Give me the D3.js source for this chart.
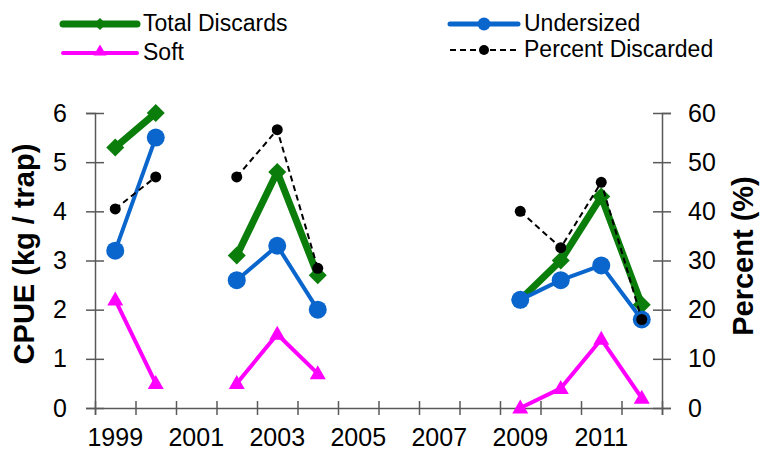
<!DOCTYPE html>
<html>
<head>
<meta charset="utf-8">
<script src="https://cdn.jsdelivr.net/npm/d3@7"></script>
<style>
  html, body { margin: 0; padding: 0; background: #fff; }
  svg { display: block; font-family: "Liberation Sans", Arial, sans-serif; }
</style>
</head>
<body>
<svg id="chart" width="760" height="454"></svg>
<script>
// ---- data ----
const years = [1999, 2000, 2001, 2002, 2003, 2004, 2005, 2006, 2007, 2008, 2009, 2010, 2011, 2012];
const yearLabels = [1999, 2001, 2003, 2005, 2007, 2009, 2011];
const totalDiscards = [5.3, 6.0, null, 3.1, 4.8, 2.7, null, null, null, null, 2.2, 3.0, 4.3, 2.1];
const undersized    = [3.2, 5.5, null, 2.6, 3.3, 2.0, null, null, null, null, 2.2, 2.6, 2.9, 1.8];
const soft          = [2.2, 0.5, null, 0.5, 1.5, 0.7, null, null, null, null, 0.0, 0.4, 1.4, 0.2];
const percentDiscarded = [40.5, 47.0, null, 47.0, 56.6, 28.4, null, null, null, null, 40.0, 32.6, 45.9, 18.0];
const leftTicks = [0, 1, 2, 3, 4, 5, 6];
const rightTicks = [0, 10, 20, 30, 40, 50, 60];

// ---- layout ----
const svg = d3.select("#chart");
const plotL = 95, plotR = 662, plotT = 113, plotB = 408;
const axisColor = "#595959";
const GREEN = "#0b7d0b", BLUE = "#0a66cc", MAGENTA = "#ff00ff", BLACK = "#000";

const x = d3.scaleBand().domain(years).range([plotL, plotR]).padding(0);
const xIdx = d3.scaleLinear().domain([0, years.length]).range([plotL, plotR]);
const yL = d3.scaleLinear().domain([0, 6]).range([plotB, plotT]);
const yR = d3.scaleLinear().domain([0, 60]).range([plotB, plotT]);
const cx = d => x(d) + x.bandwidth() / 2;

// ---- axes ----
// left
const gL = svg.append("g").attr("transform", `translate(${plotL},0)`)
  .call(d3.axisLeft(yL).tickValues(leftTicks).tickSize(9).tickPadding(19).tickFormat(d3.format("d")));
gL.selectAll(".tick line").attr("x1", 9);
// right
const gR = svg.append("g").attr("transform", `translate(${plotR},0)`)
  .call(d3.axisRight(yR).tickValues(rightTicks).tickSize(9).tickPadding(17).tickFormat(d3.format("d")));
gR.selectAll(".tick line").attr("x1", -9);
// bottom tick marks at category boundaries
const gB = svg.append("g").attr("transform", `translate(0,${plotB})`)
  .call(d3.axisBottom(xIdx).tickValues(d3.range(0, years.length + 1)).tickSize(7).tickFormat(""));
gB.selectAll(".tick line").attr("y1", -7);
// bottom labels
const gBL = svg.append("g").attr("transform", `translate(0,${plotB})`)
  .call(d3.axisBottom(x).tickValues(yearLabels).tickSize(0).tickPadding(20));
gBL.select(".domain").remove();

[gL, gR, gB].forEach(g => {
  g.select(".domain").attr("stroke", axisColor).attr("stroke-width", 1.5);
  g.selectAll(".tick line").attr("stroke", axisColor).attr("stroke-width", 1.5);
});
[gL, gR, gBL].forEach(g => {
  g.selectAll(".tick text").attr("fill", "#000").attr("font-size", 25)
    .attr("font-family", "'Liberation Sans', Arial, sans-serif");
});
gBL.selectAll(".tick text").attr("dy", "0.71em");

// axis titles
svg.append("text").attr("transform", "translate(34,254) rotate(-90)")
  .attr("text-anchor", "middle").attr("font-size", 29).attr("font-weight", "bold")
  .text("CPUE (kg / trap)");
svg.append("text").attr("transform", "translate(753,256) rotate(-90)")
  .attr("text-anchor", "middle").attr("font-size", 29).attr("font-weight", "bold")
  .text("Percent (%)");

// ---- series ----
const diamond = s => `M0,${-s}L${s},0L0,${s}L${-s},0Z`;
const triangle = (w, h) => `M0,${-h * 0.6}L${w / 2},${h * 0.4}L${-w / 2},${h * 0.4}Z`;

function drawSeries(vals, yScale, opts) {
  const pts = years.map((yr, i) => ({ yr, v: vals[i] }));
  const line = d3.line().defined(d => d.v !== null).x(d => cx(d.yr)).y(d => yScale(d.v));
  svg.append("path").datum(pts).attr("d", line)
    .attr("fill", "none").attr("stroke", opts.color).attr("stroke-width", opts.width)
    .attr("stroke-dasharray", opts.dash || null).attr("stroke-linejoin", "round");
  const valid = pts.filter(d => d.v !== null);
  const g = svg.append("g");
  if (opts.marker === "circle") {
    g.selectAll("circle").data(valid).join("circle")
      .attr("cx", d => cx(d.yr)).attr("cy", d => yScale(d.v)).attr("r", opts.r).attr("fill", opts.color);
  } else {
    g.selectAll("path").data(valid).join("path")
      .attr("transform", d => `translate(${cx(d.yr)},${yScale(d.v)})`)
      .attr("d", opts.shape).attr("fill", opts.color);
  }
}

drawSeries(totalDiscards, yL, { color: GREEN, width: 7, marker: "path", shape: diamond(9) });
drawSeries(undersized, yL, { color: BLUE, width: 4, marker: "circle", r: 9 });
drawSeries(soft, yL, { color: MAGENTA, width: 4, marker: "path", shape: triangle(16, 14) });
drawSeries(percentDiscarded, yR, { color: BLACK, width: 2, dash: "6,4", marker: "circle", r: 5.5 });

// ---- legend ----
const legend = [
  { name: "Total Discards", color: GREEN, x0: 63, x1: 137, y: 24, w: 7, kind: "diamond" },
  { name: "Soft", color: MAGENTA, x0: 63, x1: 137, y: 53, w: 4, kind: "triangle" },
  { name: "Undersized", color: BLUE, x0: 450, x1: 518, y: 24, w: 5, kind: "circle" },
  { name: "Percent Discarded", color: BLACK, x0: 450, x1: 518, y: 50, w: 2, kind: "dot", dash: "6,4" }
];
legend.forEach(l => {
  const g = svg.append("g");
  g.append("line").attr("x1", l.x0).attr("x2", l.x1).attr("y1", l.y).attr("y2", l.y)
    .attr("stroke", l.color).attr("stroke-width", l.w)
    .attr("stroke-linecap", l.dash ? "butt" : "round")
    .attr("stroke-dasharray", l.dash || null);
  const mx = (l.x0 + l.x1) / 2;
  if (l.kind === "diamond") g.append("path").attr("d", diamond(6)).attr("transform", `translate(${mx},${l.y})`).attr("fill", l.color);
  if (l.kind === "triangle") g.append("path").attr("d", triangle(13, 11)).attr("transform", `translate(${mx},${l.y - 2})`).attr("fill", l.color);
  if (l.kind === "circle") g.append("circle").attr("cx", mx).attr("cy", l.y).attr("r", 6.5).attr("fill", l.color);
  if (l.kind === "dot") g.append("circle").attr("cx", mx).attr("cy", l.y).attr("r", 5).attr("fill", l.color);
  g.append("text").attr("x", l.x1 + 6).attr("y", l.y - 1).attr("dy", "0.35em")
    .attr("font-size", 23).attr("fill", "#000").text(l.name);
});
</script>
</body>
</html>
